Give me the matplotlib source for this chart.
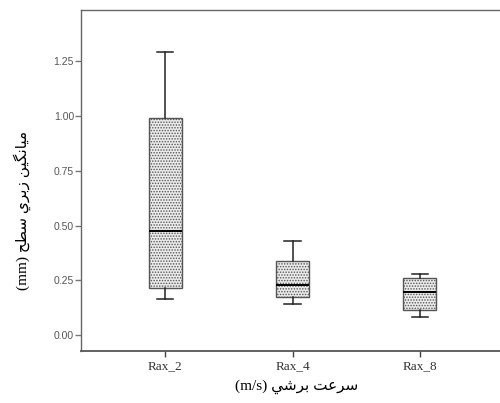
import matplotlib
matplotlib.use('Agg')
import matplotlib.pyplot as plt

# box statistics (mm)
groups = ["Rax_2", "Rax_4", "Rax_8"]
whis_hi = [1.292, 0.429, 0.280]
q3 = [0.989, 0.339, 0.259]
medians = [0.476, 0.229, 0.196]
q1 = [0.213, 0.175, 0.115]
whis_lo = [0.164, 0.141, 0.081]

yticks = [0.00, 0.25, 0.50, 0.75, 1.00, 1.25]

xlabel_fa = "سرعت برشی"
xlabel_unit = "(m/s)"
ylabel_fa = "میانگین زبری سطح"
ylabel_unit = "(mm)"

# minimal Persian shaping: (isolated, final, initial, medial)
FORMS = {
    "ا": ("\uFE8D", "\uFE8E", None, None),
    "ب": ("\uFE8F", "\uFE90", "\uFE91", "\uFE92"),
    "ت": ("\uFE95", "\uFE96", "\uFE97", "\uFE98"),
    "ح": ("\uFEA1", "\uFEA2", "\uFEA3", "\uFEA4"),
    "ر": ("\uFEAD", "\uFEAE", None, None),
    "ز": ("\uFEAF", "\uFEB0", None, None),
    "س": ("\uFEB1", "\uFEB2", "\uFEB3", "\uFEB4"),
    "ش": ("\uFEB5", "\uFEB6", "\uFEB7", "\uFEB8"),
    "ط": ("\uFEC1", "\uFEC2", "\uFEC3", "\uFEC4"),
    "ع": ("\uFEC9", "\uFECA", "\uFECB", "\uFECC"),
    "م": ("\uFEE1", "\uFEE2", "\uFEE3", "\uFEE4"),
    "ن": ("\uFEE5", "\uFEE6", "\uFEE7", "\uFEE8"),
    "ی": ("\uFEF1", "\uFEF2", "\uFEF3", "\uFEF4"),
    "گ": ("\uFB92", "\uFB93", "\uFB94", "\uFB95"),
}


def shape(text):
    out = []
    for i, ch in enumerate(text):
        if ch not in FORMS:
            out.append(ch)
            continue
        prev = text[i - 1] if i > 0 else ""
        nxt = text[i + 1] if i + 1 < len(text) else ""
        join_prev = prev in FORMS and FORMS[prev][2] is not None
        join_next = nxt in FORMS and FORMS[ch][2] is not None
        iso, fin, ini, med = FORMS[ch]
        if join_prev and join_next:
            out.append(med)
        elif join_prev:
            out.append(fin)
        elif join_next:
            out.append(ini)
        else:
            out.append(iso)
    return "".join(out)[::-1]


plt.rcParams['hatch.linewidth'] = 0.7
plt.rcParams['hatch.color'] = '#8f8f8f'

fig = plt.figure(figsize=(5.0, 4.03), dpi=100)
ax = fig.add_axes([0.162, 0.130, 0.846, 0.845])

stats = []
for i, g in enumerate(groups):
    stats.append(dict(label=g, med=medians[i], q1=q1[i], q3=q3[i],
                      whislo=whis_lo[i], whishi=whis_hi[i], fliers=[]))

bp = ax.bxp(stats, positions=[1, 2, 3], widths=0.26, capwidths=0.13,
            patch_artist=True, showfliers=False,
            medianprops=dict(color='black', linewidth=1.4),
            whiskerprops=dict(color='#222222', linewidth=1.1),
            capprops=dict(color='#222222', linewidth=1.1))
for box in bp['boxes']:
    box.set_facecolor('#ebebeb')
    box.set_edgecolor('#555555')
    box.set_linewidth(1.0)
    box.set_hatch('......')

ax.set_xlim(0.34, 3.66)
ax.set_ylim(-0.0707, 1.483)
ax.set_yticks(yticks)
ax.set_yticklabels([f"{v:.2f}" for v in yticks], fontsize=7.5,
                   color='#555555', family='Liberation Sans')
ax.set_xticks([1, 2, 3])
ax.set_xticklabels(groups, fontsize=9.5, family='Liberation Serif',
                   color='#333333')
ax.tick_params(axis='y', length=4, width=1, color='#777777', pad=1)
ax.tick_params(axis='x', length=4, width=1, color='#444444', pad=3)

for side in ['left', 'top', 'right']:
    ax.spines[side].set_color('#666666')
    ax.spines[side].set_linewidth(1.0)
ax.spines['bottom'].set_color('#555555')
ax.spines['bottom'].set_linewidth(1.3)

fam = ['Liberation Serif', 'DejaVu Sans']
fig.text(297 / 500, 1 - 387 / 403, xlabel_unit + " " + shape(xlabel_fa),
         ha='center', va='center', fontsize=11, family=fam)
fig.text(22 / 500, 1 - 210 / 403, ylabel_unit + " " + shape(ylabel_fa),
         ha='center', va='center', rotation=90, fontsize=11, family=fam)

fig.savefig("out.png", dpi=100)
